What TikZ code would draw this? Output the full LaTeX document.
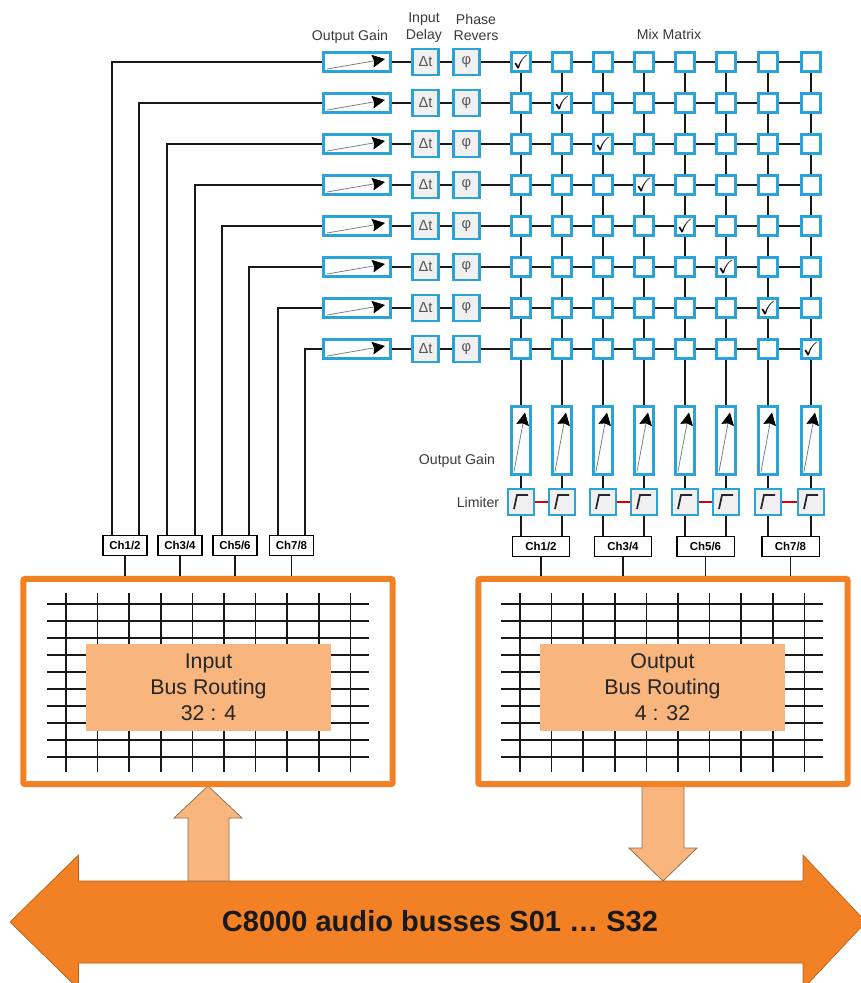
\documentclass[tikz,border=0pt]{standalone}
\usepackage{amssymb}
\usepackage{fontspec}
\setmainfont{Liberation Sans}
\usetikzlibrary{calc, positioning}
\usetikzlibrary{arrows.meta}
\definecolor{cellblue}{HTML}{29A3DA}
\definecolor{busorange}{HTML}{F28024}
\definecolor{routefill}{HTML}{F9B57E}
\definecolor{labelgray}{HTML}{3A3A3A}
\tikzset{
  wire/.style={black!90, line width=1.3pt},
  cell/.style={draw=cellblue, line width=2.2pt, fill=white, inner sep=0pt},
  mixcell/.style={cell, minimum size=14.5pt, font=\Large},
  hgain/.style={cell, minimum width=50.5pt, minimum height=14.5pt},
  vgain/.style={cell, minimum width=14.5pt, minimum height=50.5pt},
  effect/.style={cell, fill=gray!12, minimum width=20pt, minimum height=19.5pt,
    text=labelgray!85, font=\fontsize{11}{11}\selectfont},
  limcell/.style={cell, fill=gray!12, minimum size=19.5pt},
  chbox/.style={draw=black, line width=1pt, fill=white, inner sep=0pt,
    minimum height=15pt, font=\fontsize{8.6}{9}\selectfont\bfseries},
  caption/.style={text=labelgray, inner sep=0pt, align=center,
    font=\fontsize{10.6}{12.6}\selectfont},
  routebox/.style={draw=busorange, line width=4.6pt, rounded corners=1.5pt, fill=white,
    minimum width=277pt, minimum height=154pt},
  routelabel/.style={fill=routefill, minimum width=184pt, minimum height=65pt, inner sep=0pt,
    align=center, text=black!85, font=\fontsize{16}{19.6}\selectfont},
  gridline/.style={black!90, line width=1.1pt},
  pointer/.style={gray, line width=.6pt, -{Stealth[length=9.5pt, width=9.5pt, inset=1.2pt, black]}},
  limcurve/.style={black!85, line width=1.3pt},
  flow/.style={fill=routefill, draw=black!40!routefill, line width=.6pt},
}
\begin{document}
\begin{tikzpicture}[x=.75pt, y=-.75pt]
\useasboundingbox (0,0) rectangle (861,983);

% bus arrow
\begin{scope}
\clip (0,0) rectangle (861,983);
\draw[fill=busorange, draw=black!25!busorange, line width=.5pt]
  (10,922) -- (78.5,855) -- (78.5,881) -- (803,881) -- (803,855) -- (866,922)
  -- (803,989) -- (803,963) -- (78.5,963) -- (78.5,989) -- cycle;
\end{scope}
\node[font=\fontsize{21.8}{24}\selectfont\bfseries, text=black!90] (bus) at (440,921) {C8000 audio busses S01 \dots{} S32};

\draw[flow] (208,786) -- (242,818) -- (229,818) -- (229,881) -- (188,881) -- (188,818) -- (174,818) -- cycle;
\draw[flow] (642,786) -- (684,786) -- (684,848) -- (697,848) -- (663,881) -- (629,848) -- (642,848) -- cycle;

% routing blocks
\node[routebox] (inroute) at (208,681.5) {};
\node[routebox] (outroute) at (663,681.5) {};
\foreach \dx in {0,454}{
  \foreach \i in {0,...,9}{
    \draw[gridline] ({66+\dx+31.6*\i},593) -- ++(0,179);
    \draw[gridline] ({47+\dx},{604+17*\i}) -- ++(322,0);
  }
}
\node[routelabel] (inlabel) at (208.5,687.5) {Input\\Bus Routing\\32 : 4};
\node[routelabel] (outlabel) at (662.5,687.5) {Output\\Bus Routing\\4 : 32};

% channel boxes
\foreach \k/\x in {1/125,2/180,3/235,4/291.5}
  \node[chbox, minimum width=33pt] (ci\k) at (\x,545.5) {Ch\the\numexpr2*\k-1\relax/\the\numexpr2*\k\relax};
\foreach \k/\x in {1/541,2/623,3/705.5,4/790.5}
  \node[chbox, minimum width=43pt] (co\k) at (\x,546.5) {Ch\the\numexpr2*\k-1\relax/\the\numexpr2*\k\relax};
\foreach \k in {1,...,4}{
  \draw[wire] (ci\k) -- (ci\k |- inroute.north);
  \draw[wire] (co\k) -- (co\k |- outroute.north);
}

% input strips
\foreach \r in {1,...,8}{
  \pgfmathsetmacro{\y}{62+41*(\r-1)}
  \node[hgain] (g\r) at (357,\y) {};
  \node[effect] (d\r) at (425.5,\y) {Δt};
  \node[effect] (ph\r) at (466.5,\y) {φ};
  \draw[wire] (g\r) -- (d\r);
  \draw[wire] (d\r) -- (ph\r);
  \draw[pointer] ([shift={(-30,7)}]g\r.center) -- ([shift={(28,-3)}]g\r.center);
}
\foreach \r/\k/\dx in {1/1/-13,2/1/14,3/2/-13,4/2/15,5/3/-13,6/3/14,7/4/-13.5,8/4/13.5}
  \draw[wire] (g\r) -| ([shift={(\dx,0)}]ci\k.north);

% mix matrix
\foreach \r in {1,...,8}{
  \pgfmathsetmacro{\y}{62+41*(\r-1)}
  \foreach \c/\x in {1/521,2/562,3/603,4/644,5/685,6/726,7/768,8/811}{
    \node[mixcell] (m\r\c) at (\x,\y) {\ifnum\r=\c $\checkmark$\fi};
  }
}
\foreach \r in {1,...,8}{
  \draw[wire] (ph\r) -- (m\r1);
  \foreach \c/\n in {1/2,2/3,3/4,4/5,5/6,6/7,7/8}
    \draw[wire] (m\r\c) -- (m\r\n);
}
\foreach \c in {1,...,8}
  \foreach \r/\n in {1/2,2/3,3/4,4/5,5/6,6/7,7/8}
    \draw[wire] (m\r\c) -- (m\n\c);

% output strips
\foreach \c/\x/\k in {1/521/1,2/562/1,3/603/2,4/644/2,5/685/3,6/726/3,7/768/4,8/811/4}{
  \node[vgain] (f\c) at (\x,440.5) {};
  \node[limcell] (l\c) at (\x,502) {};
  \draw[wire] (m8\c) -- (f\c);
  \draw[wire] (f\c) -- (l\c);
  \draw[wire] (l\c) -- (l\c |- co\k.north);
  \draw[pointer] ([shift={(-7,31)}]f\c.center) -- ([shift={(4,-28)}]f\c.center);
  \draw[limcurve] ([shift={(-7,7)}]l\c.center) -- ([shift={(-4,-7)}]l\c.center) -- ([shift={(7,-7)}]l\c.center);
}
\foreach \c/\n in {1/2,3/4,5/6,7/8}
  \draw[red!85!black, line width=1.5pt] (l\c) -- (l\n);

% labels
\node[caption] (gaintop) at (350,37) {Output Gain};
\node[caption] (delaytop) at (424,27.5) {Input\\Delay};
\node[caption] (phasetop) at (476,27.5) {Phase\\Revers};
\node[caption] (mixtop) at (669,34) {Mix Matrix};
\node[caption] (gainside) at (457,461) {Output Gain};
\node[caption] (limside) at (478,502) {Limiter};
\end{tikzpicture}
\end{document}
